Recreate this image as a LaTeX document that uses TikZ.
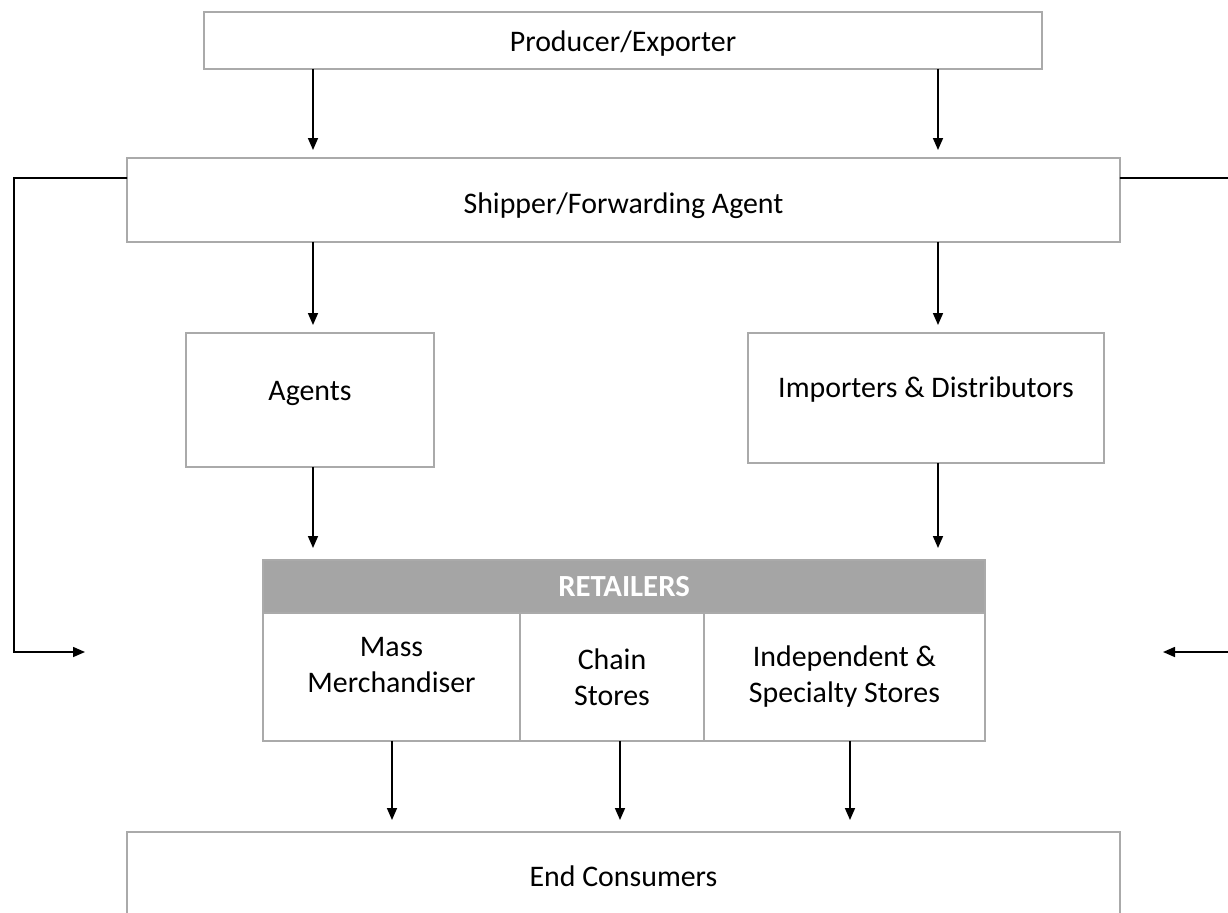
\documentclass[tikz,border=0pt]{standalone}
\usepackage{fontspec}
\setmainfont{Carlito}
\usepackage{xcolor}
\usepackage{tikz}
\usetikzlibrary{arrows.meta,positioning}

\definecolor{boxgray}{RGB}{170,170,170}
\definecolor{headgray}{RGB}{165,165,165}

% move a line of text up or down inside its box
\newcommand{\lift}[2]{\raisebox{#1}[\height][\depth]{#2}}

\tikzset{
  box/.style={draw=boxgray, line width=0.9pt, align=center, inner sep=0pt, outer sep=0pt},
  head/.style={box, fill=headgray, text=white, font=\fontsize{17.5}{21}\selectfont\bfseries},
  arr/.style={-{Triangle[length=0.24cm,width=0.2cm]}, line width=0.9pt, black},
  near/.style={arr, shorten >=0.16cm},
  far/.style={arr, shorten >=0.24cm}
}

\begin{document}
\begin{tikzpicture}[x=0.02cm, y=-0.02cm, font=\fontsize{17}{20.5}\selectfont]
        \useasboundingbox (0,0) rectangle (1228,913);

        \coordinate (colL) at (313,0);
        \coordinate (colR) at (938,0);
        \coordinate (colA) at (392,0);
        \coordinate (colB) at (620,0);
        \coordinate (colC) at (850,0);

        \node[box, minimum width=16.76cm, minimum height=1.14cm] (prod) at (623,40.5) {\lift{-0.06cm}{Producer/Exporter}};
        \node[box, minimum width=19.86cm, minimum height=1.68cm] (ship) at (623.5,200) {\lift{-0.12cm}{Shipper/Forwarding Agent}};

        \node[box, minimum width=4.96cm, minimum height=2.68cm] (agents) at (310,400) {\lift{0.14cm}{Agents}};
        \node[box, minimum width=7.12cm, minimum height=2.6cm] (imp) at (926,398) {\lift{0.16cm}{Importers \& Distributors}};

        % retailers block
        \node[head, minimum width=14.44cm, minimum height=1.06cm] (ret) at (624,586.5) {RETAILERS};
        \node[box, minimum width=5.14cm, minimum height=2.56cm, below right=0pt and 0pt of ret.south west,
              label={[align=center, yshift=0.24cm]center:Mass\\Merchandiser}] (mass) {};
        \node[box, minimum width=3.68cm, minimum height=2.56cm, right=0pt of mass] (chain) {Chain\\Stores};
        \node[box, minimum width=5.62cm, minimum height=2.56cm, right=0pt of chain] (indep) {Independent \&\\Specialty Stores};

        \node[box, minimum width=19.86cm, minimum height=1.76cm] (end) at (623.5,876) {End Consumers};

        % loose ends of the side loops
        \coordinate (loopL) at (14,178);
        \coordinate (inL) at (85,652);
        \coordinate (loopR) at (1232,178);
        \coordinate (inR) at (1163,652);

        % producer to shipper
        \draw[near] (prod.south -| colL) -- (ship.north -| colL);
        \draw[near] (prod.south -| colR) -- (ship.north -| colR);

        % shipper to agents and importers
        \draw[near] (ship.south -| colL) -- (agents.north -| colL);
        \draw[near] (ship.south -| colR) -- (imp.north -| colR);

        % agents and importers to retailers
        \draw[far] (agents.south -| colL) -- (ret.north -| colL);
        \draw[far] (imp.south -| colR) -- (ret.north -| colR);

        % shipper straight to retailers
        \draw[arr] ([yshift=-0.4cm]ship.north west) -- (loopL) |- (inL);
        \draw[arr] ([yshift=-0.4cm]ship.north east) -- (loopR) |- (inR);

        % retailers to end consumers
        \draw[far] (mass.south -| colA) -- (end.north -| colA);
        \draw[far] (chain.south -| colB) -- (end.north -| colB);
        \draw[far] (indep.south -| colC) -- (end.north -| colC);
\end{tikzpicture}
\end{document}
